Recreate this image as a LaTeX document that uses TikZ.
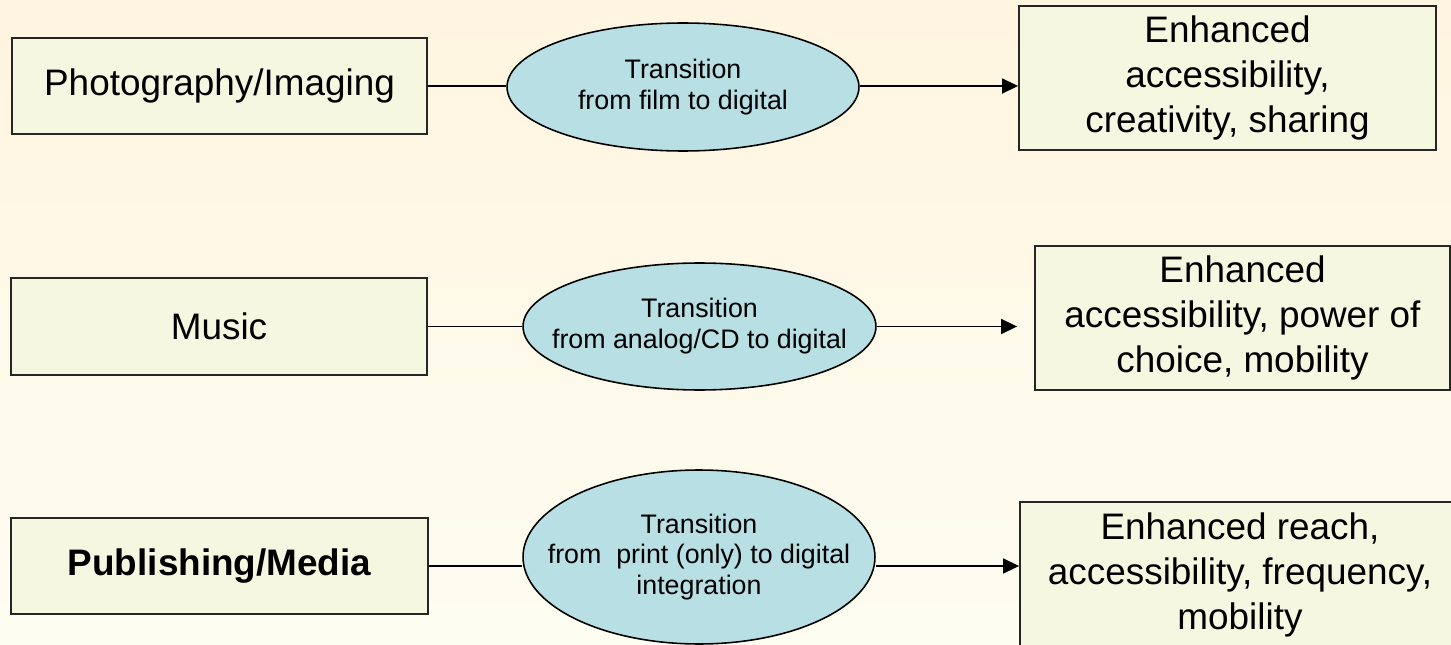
\documentclass[tikz,border=0pt]{standalone}
\usepackage{fontspec}
\setmainfont{Liberation Sans}
\usetikzlibrary{shapes.geometric,arrows.meta}
\definecolor{bgtop}{RGB}{255,245,224}
\definecolor{bgbottom}{RGB}{254,253,242}
\definecolor{boxfill}{RGB}{245,247,225}
\definecolor{ovalfill}{RGB}{183,223,228}

\begin{document}
\begin{tikzpicture}[x=0.02cm, y=-0.02cm,
		Box/.style={draw=black!85, line width=1.1pt, fill=boxfill, align=center, inner sep=0pt,
			font=\fontsize{21}{25.5}\selectfont},
		Oval/.style={ellipse, draw=black, line width=0.9pt, fill=ovalfill, align=center,
			inner xsep=-0.6cm, inner ysep=0pt, font=\fontsize{15.25}{17.6}\selectfont},
		Link/.style={line width=0.9pt},
		Arr/.style={Link, -{Triangle[length=0.32cm, width=0.3cm]}}
	]
	\useasboundingbox (0,0) rectangle (1451,645);
	\shade[top color=bgtop, bottom color=bgbottom] (0,0) rectangle (1451,645);
	\clip (0,0) rectangle (1451,645);

	\node[Box, minimum width=8.32cm, minimum height=1.92cm] (photo) at (219.5,86) {Photography/Imaging};
	\node[Box, minimum width=8.32cm, minimum height=1.94cm] (music) at (219,326.5) {Music};
	\node[Box, minimum width=8.34cm, minimum height=1.92cm, font=\fontsize{21}{25.5}\selectfont\bfseries] (publish) at (219.5,566) {Publishing/Media};

	\node[Oval, minimum width=7.04cm, minimum height=2.56cm] (film) at (683,87) {Transition\\from film to digital};
	\node[Oval, minimum width=7.06cm, minimum height=2.54cm] (analog) at (699.5,326.5) {Transition\\from analog/CD to digital};
	\node[Oval, minimum width=7.04cm, minimum height=3.48cm] (print) at (699,557) {Transition\\from\ \ print (only) to digital\\integration};

	\node[Box, minimum width=8.34cm, minimum height=2.88cm] (imaging) at (1227.5,78) {Enhanced\\accessibility,\\creativity, sharing};
	\node[Box, minimum width=8.30cm, minimum height=2.88cm] (choice) at (1242.5,318) {Enhanced\\accessibility, power of\\choice, mobility};
	\node[Box, minimum width=8.8cm, minimum height=2.92cm] (reach) at (1240,575) {Enhanced reach,\\accessibility, frequency,\\mobility};

	\draw[Link] (photo.east) -- (photo.east -| film.west);
	\draw[Arr] (photo.east -| film.east) -- (photo.east -| imaging.west);
	\draw[Link] (music.east) -- (music.east -| analog.west);
	\draw[Arr, shorten >=0.34cm] (music.east -| analog.east) -- (music.east -| choice.west);
	\draw[Link] (publish.east) -- (publish.east -| print.west);
	\draw[Arr] (publish.east -| print.east) -- (publish.east -| reach.west);
\end{tikzpicture}
\end{document}
